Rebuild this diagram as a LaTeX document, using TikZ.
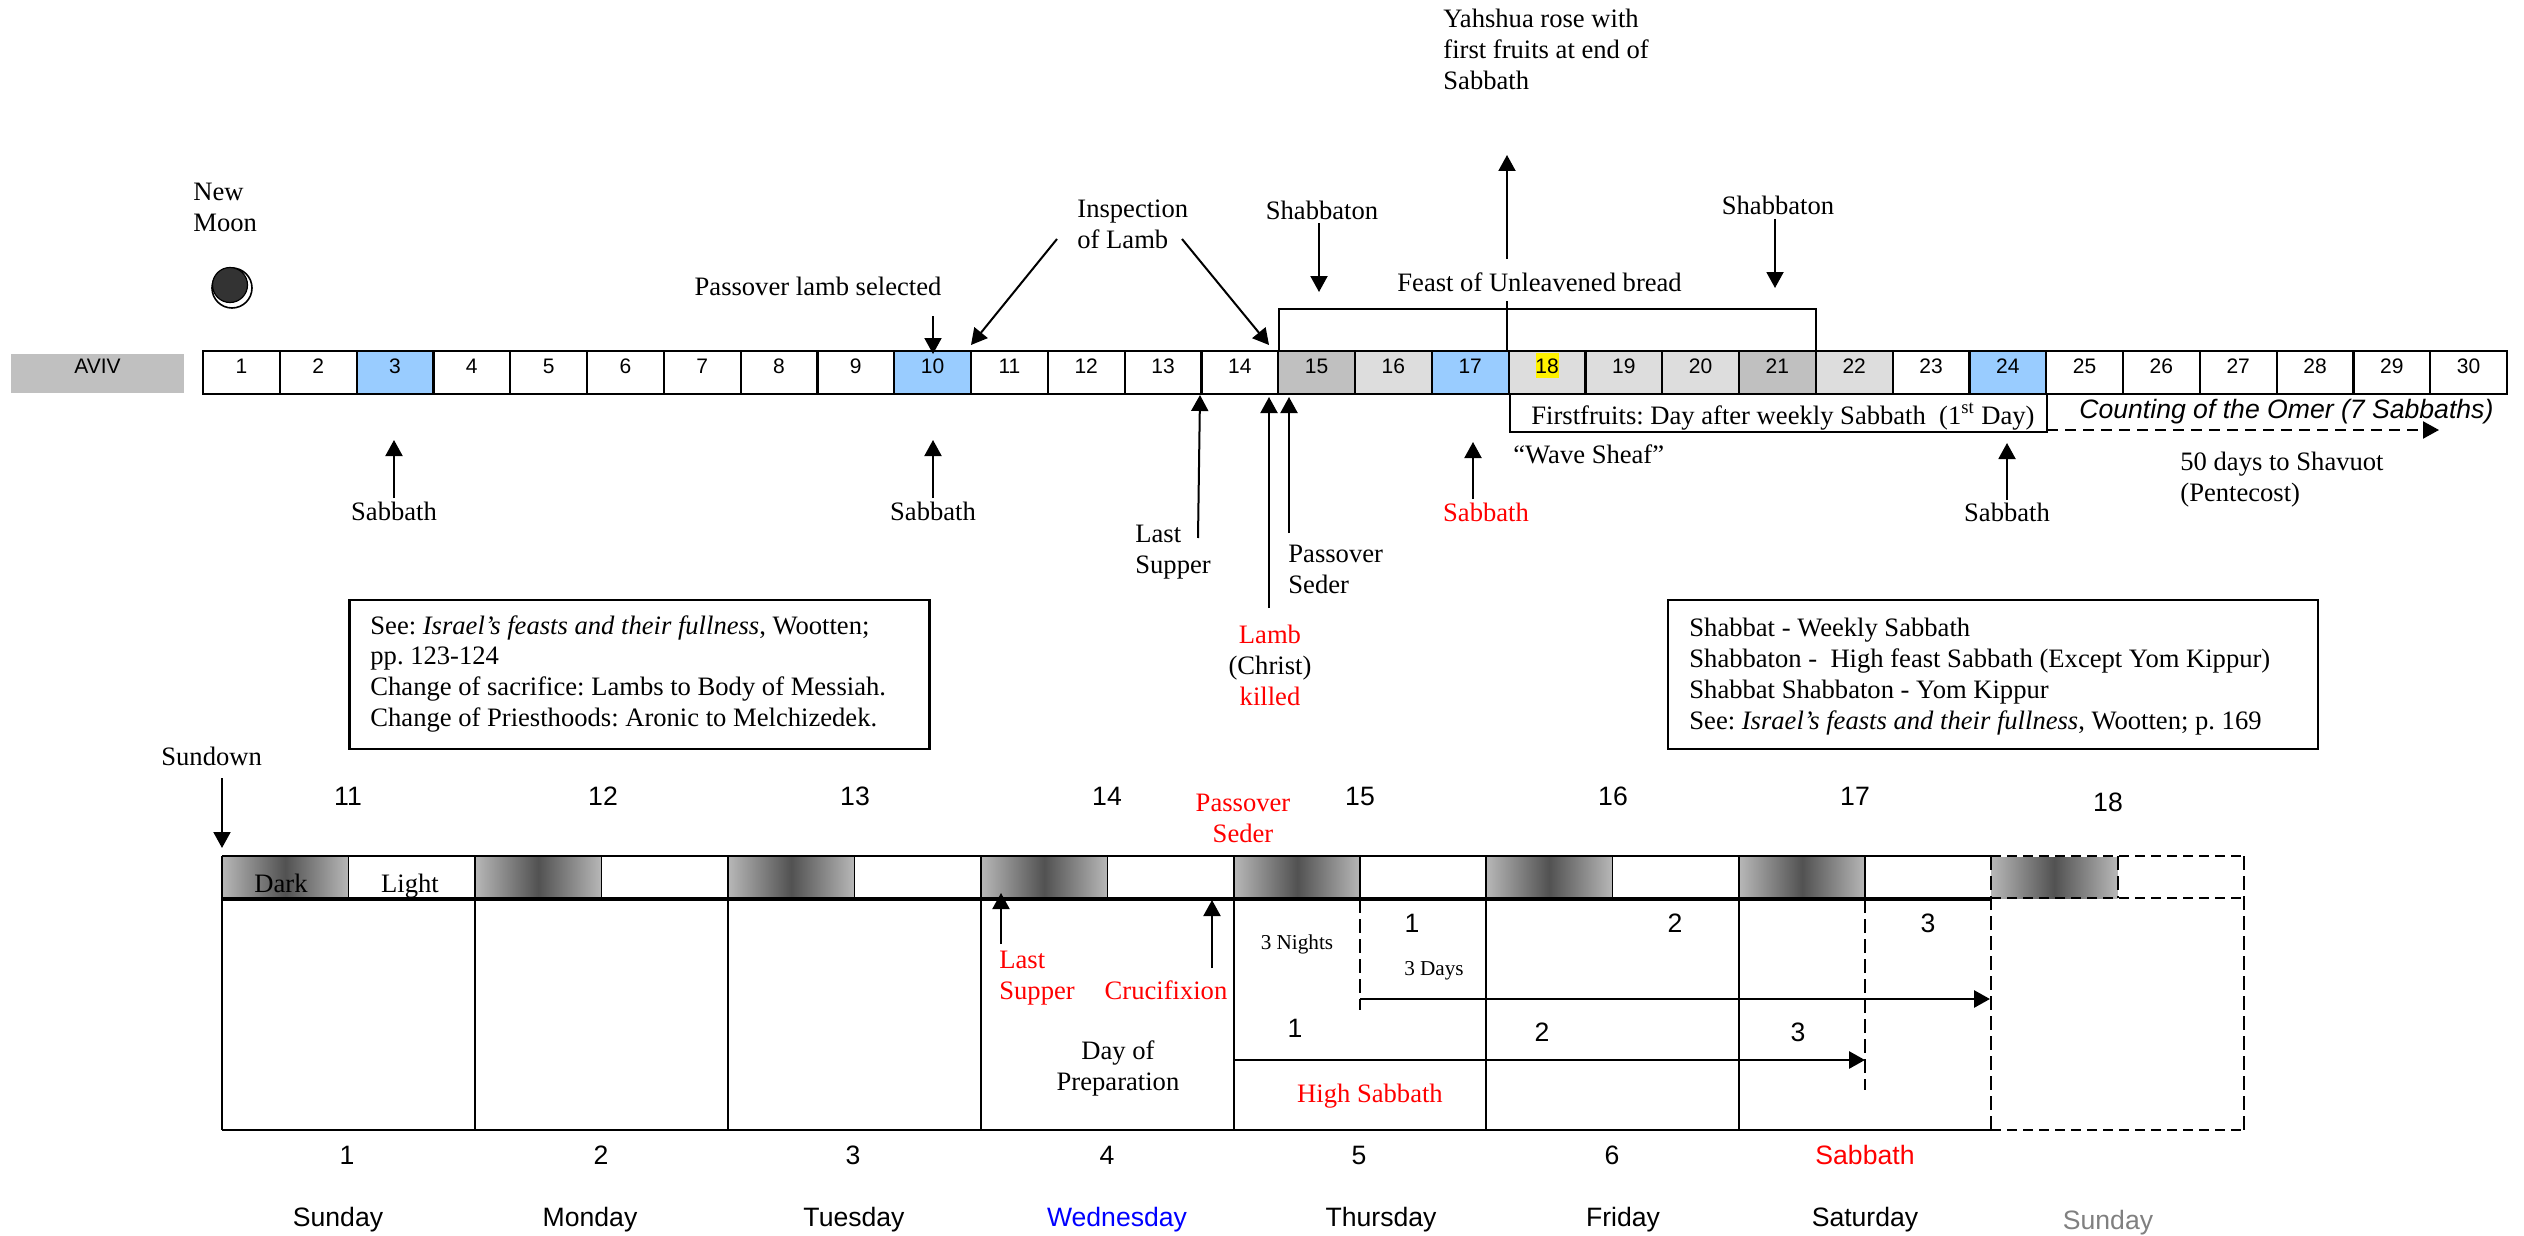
\documentclass[tikz,border=0pt]{standalone}
\usepackage{fontspec}
\setmainfont{Liberation Serif}
\setsansfont{Liberation Sans}
\usetikzlibrary{arrows.meta}
\AtBeginDocument{\frenchspacing}
\definecolor{sky}{HTML}{99CCFF}
\definecolor{midg}{HTML}{C0C0C0}
\definecolor{lightg}{HTML}{DDDDDD}
\definecolor{redt}{HTML}{FF0000}
\definecolor{blut}{HTML}{0000FF}
\definecolor{gryt}{HTML}{808080}
\definecolor{moon}{HTML}{333333}
\tikzset{
 txt/.style={inner sep=0pt,yshift=-1.5pt,font=\fontsize{13.3}{15.5}\selectfont,text height=9pt,text depth=3pt},
 txtl/.style={txt,anchor=west},
 txtc/.style={txt},
 ml/.style={inner sep=0pt,yshift=-1.5pt,font=\fontsize{13.3}{15.5}\selectfont,anchor=west,align=left},
 mc/.style={inner sep=0pt,yshift=-1.5pt,font=\fontsize{13.3}{15.5}\selectfont,align=center},
 ssf/.style={inner sep=0pt,yshift=-1.2pt,font=\sffamily\fontsize{13.3}{15.5}\selectfont,text height=9.5pt,text depth=3pt},
 sm/.style={inner sep=0pt,font=\sffamily\fontsize{10.5}{12}\selectfont,text height=7.5pt,text depth=0pt},
 tiny/.style={inner sep=0pt,yshift=-.5pt,font=\fontsize{10.6}{12}\selectfont,text height=7pt,text depth=2pt},
 cell/.style={draw=black,line width=1.1pt,minimum width=38.4pt,minimum height=21.5pt,inner sep=0pt},
 conn/.style={line width=1pt,-{Triangle[length=8pt,width=8.5pt]}},
 plain/.style={line width=1pt},
 frame/.style={line width=1.1pt},
 dashv/.style={line width=.7pt,dash pattern=on 7pt off 3pt},
 dashh/.style={line width=1.2pt,dash pattern=on 5pt off 3pt},
 infobox/.style={draw=black,line width=1.1pt,fill=white},
}
\newcommand{\conx}[6][conn]{\coordinate (#2a) at (#3);\coordinate (#2b) at (#4);\draw[#1,#5] (#2a) -- (#2b)#6;}
\begin{document}
\begin{tikzpicture}[x=0.5pt,y=-0.5pt]
\useasboundingbox (0,0) rectangle (2524,1236);
% top strip
\node[fill=midg,inner sep=0pt,minimum width=86.5pt,minimum height=19.5pt] (aviv) at (97.5,373.5) {};
\node[sm] (avivt) at (97.5,366) {AVIV};
\foreach \n/\col in {1/white,2/white,3/sky,4/white,5/white,6/white,7/white,8/white,9/white,10/sky,11/white,12/white,13/white,14/white,15/midg,16/lightg,17/sky,18/lightg,19/lightg,20/lightg,21/midg,22/lightg,23/white,24/sky,25/white,26/white,27/white,28/white,29/white,30/white}{
  \pgfmathsetmacro{\cx}{203+76.8*(\n-0.5)}
  \node[cell,fill=\col] (c\n) at (\cx,372.5) {};
}
\node[fill=yellow,inner sep=0pt,minimum width=11.5pt,minimum height=12.5pt] (hl) at (1547.5,365.5) {};
\foreach \n in {1,...,30}{
  \pgfmathsetmacro{\cx}{203+76.8*(\n-0.5)}
  \node[sm] (t\n) at (\cx,365.5) {\n};
}
% moon
\node[draw=black,line width=.8pt,circle,minimum size=20pt,inner sep=0pt,fill=white] (moono) at (232,288) {};
\node[circle,draw=black,line width=.6pt,minimum size=17.5pt,inner sep=0pt,fill=moon] (mooni) at (230,285) {};
\node[ml] (newmoon) at (193,204) {New\\Moon};
% labels top
\node[txt] (pls) at (818,286) {Passover lamb selected};
\node[txtc] (sab3) at (394,511) {Sabbath};
\node[txtc] (sab10) at (933,511) {Sabbath};
\node[ml] (insp) at (1077,221) {Inspection\\of Lamb};
\node[txtc] (shb1) at (1322,211) {Shabbaton};
\node[txtc] (shb2) at (1778,205) {Shabbaton};
\node[txtl] (feast) at (1397,282) {Feast of Unleavened bread};
\node[ml] (yah) at (1443,46) {Yahshua rose with\\first fruits at end of\\Sabbath};
\node[txtc,text=redt] (sabr) at (1486,512) {Sabbath};
\node[txtc] (sab24) at (2007,512) {Sabbath};
\node[txtl] (wave) at (1513,454) {``Wave Sheaf''};
\node[ml] (last) at (1135,549) {Last\\Supper};
\node[ml] (seder) at (1288,566) {Passover\\Seder};
\node[mc] (lamb) at (1270,662) {\textcolor{redt}{Lamb}\\(Christ)\\\textcolor{redt}{killed}};
\node[ml] (fifty) at (2180,477) {50 days to Shavuot\\(Pentecost)};
% bracket and firstfruits
\coordinate (ba) at (1279,351);\coordinate (bb) at (1279,309);\coordinate (bc) at (1816,309);\coordinate (bd) at (1816,351);
\draw[plain] (ba) -- (bb) -- (bc) -- (bd);
\coordinate (fa) at (1510,394);\coordinate (fb) at (1510,432);\coordinate (fc) at (2047,432);\coordinate (fd) at (2047,394);
\draw[frame] (fa) -- (fb) -- (fc) -- (fd);
\node[txtl] (first) at (1531,415) {Firstfruits: Day after weekly Sabbath\ \ (1\textsuperscript{st} Day)};
\node[ssf,anchor=west] (omer) at (2079,410) {\itshape Counting of the Omer (7 Sabbaths)};
% arrows top
\conx{a1}{933,316}{933,354}{}{}
\conx{a2}{394,498}{394,440}{}{}
\conx{a3}{933,498}{933,440}{}{}
\conx{a4}{1057,239}{971,345}{}{}
\conx{a5}{1182,239}{1269,345}{}{}
\conx{a6}{1319,223}{1319,292}{}{}
\conx{a7}{1775,219}{1775,288}{}{}
\conx{a8}{1507,259}{1507,155}{}{}
\conx[plain]{a9}{1507,301}{1507,351}{}{}
\conx{a10}{1473,499}{1473,442}{}{}
\conx{a11}{2007,500}{2007,443}{}{}
\conx{a12}{1198,538}{1200,395}{}{}
\conx{a13}{1269,608}{1269,397}{}{}
\conx{a14}{1289,533}{1289,397}{}{}
\conx[conn]{a15}{2047,430}{2439,430}{dash pattern=on 5.5pt off 3.5pt,line width=1.1pt}{}
% info boxes
\node[infobox,minimum width=290pt,minimum height=74.5pt,inner sep=0pt] (boxl) at (639.5,674.5) {};
\node[ml] (boxlt) at (370,671) {See: \textit{Israel's feasts and their fullness}, Wootten;\\pp. 123-124\\Change of sacrifice: Lambs to Body of Messiah.\\Change of Priesthoods: Aronic to Melchizedek.};
\node[infobox,minimum width=325pt,minimum height=74.5pt,inner sep=0pt] (boxr) at (1993,674.5) {};
\node[ml] (boxrt) at (1689,674) {Shabbat - Weekly Sabbath\\Shabbaton -\ \ High feast Sabbath (Except Yom Kippur)\\Shabbat Shabbaton - Yom Kippur\\See: \textit{Israel's feasts and their fullness}, Wootten; p. 169};
% bottom grid
\foreach \i/\x in {0/222,1/475,2/728,3/981,4/1234,5/1486,6/1739,7/1991}{
  \pgfmathsetmacro{\xm}{\x+126.5}
  \coordinate (dk\i a) at (\x,857);\coordinate (dk\i b) at (\xm,898);
  \shade[left color=black!28,right color=black!28,middle color=black!68] (dk\i a) rectangle (dk\i b);
}
\coordinate (g1) at (222,856);\coordinate (g2) at (1991,856);\coordinate (g3) at (1991,899);\coordinate (g4) at (222,899);\coordinate (g5) at (222,1130);\coordinate (g6) at (1991,1130);
\draw[line width=1pt] (g1) -- (g2);
\draw[line width=1.6pt] (g4) -- (g3);
\draw[line width=1pt] (g1) -- (g5);
\draw[line width=1.2pt] (g5) -- (g6);
\foreach \i/\x in {1/475,2/728,3/981,4/1234,5/1486,6/1739}{
  \coordinate (vt\i) at (\x,856);\coordinate (vb\i) at (\x,1130);
  \draw[line width=.9pt] (vt\i) -- (vb\i);
}
\foreach \i/\x in {0/348.5,1/601.5,2/854.5,3/1107.5,4/1360,5/1612.5,6/1865}{
  \coordinate (ht\i) at (\x,856);\coordinate (hb\i) at (\x,899);
  \draw[line width=.9pt] (ht\i) -- (hb\i);
}
% Sunday dashed
\coordinate (s1) at (1991,856);\coordinate (s2) at (2244,856);\coordinate (s3) at (2244,1130);\coordinate (s4) at (1991,1130);\coordinate (s5) at (1991,898);\coordinate (s6) at (2244,898);\coordinate (s7) at (2118,856);\coordinate (s8) at (2118,898);
\draw[dashh] (s1) -- (s2);
\draw[dashh] (s5) -- (s6);
\draw[dashh] (s4) -- (s3);
\draw[dashv] (s1) -- (s4);
\draw[dashv] (s2) -- (s3);
\draw[dashv] (s7) -- (s8);
\coordinate (d1a) at (1360,899);\coordinate (d1b) at (1360,1010);
\draw[dashv] (d1a) -- (d1b);
\coordinate (d2a) at (1865,899);\coordinate (d2b) at (1865,1090);
\draw[dashv] (d2a) -- (d2b);
\conx{b1}{222,778}{222,848}{}{}
\conx{b2}{1001,944}{1001,893}{}{}
\conx{b3}{1212,968}{1212,900}{}{}
\conx{b4}{1360,999}{1990,999}{line width=1.4pt}{}
\conx{b5}{1234,1060}{1865,1060}{line width=1.4pt}{}
% bottom labels
\node[txtl] (sundown) at (161,756) {Sundown};
\foreach \n/\x in {11/348,12/603,13/855,14/1107,15/1360,16/1613,17/1855}{
  \node[ssf] (top\n) at (\x,797) {\n};
}
\node[ssf] (top18) at (2108,803) {18};
\node[txtc] (dark) at (281,883) {Dark};
\node[txtc] (light) at (410,883) {Light};
\node[ml,text=redt] (lastb) at (999,975) {Last\\Supper};
\node[txtc,text=redt] (cruc) at (1166,990) {Crucifixion};
\node[mc] (prep) at (1118,1065) {Day of\\Preparation};
\node[mc,text=redt] (sederb) at (1243,815) {Passover\\Seder};
\node[tiny] (nights) at (1297,943) {3 Nights};
\node[tiny] (days) at (1434,969) {3 Days};
\node[ssf] (n1) at (1412,924) {1};
\node[ssf] (n2) at (1675,924) {2};
\node[ssf] (n3) at (1928,924) {3};
\node[ssf] (m1) at (1295,1029) {1};
\node[ssf] (m2) at (1542,1033) {2};
\node[ssf] (m3) at (1798,1033) {3};
\node[txtc,text=redt] (high) at (1370,1093) {High Sabbath};
\foreach \n/\x in {1/347,2/601,3/853,4/1107,5/1359,6/1612}{
  \node[ssf] (bot\n) at (\x,1156) {\n};
}
\node[ssf,text=redt] (botsab) at (1865,1156) {Sabbath};
\node[ssf] (d1) at (338,1218) {Sunday};
\node[ssf] (d2) at (590,1218) {Monday};
\node[ssf] (d3) at (854,1218) {Tuesday};
\node[ssf,text=blut] (d4) at (1117,1218) {Wednesday};
\node[ssf] (d5) at (1381,1218) {Thursday};
\node[ssf] (d6) at (1623,1218) {Friday};
\node[ssf] (d7) at (1865,1218) {Saturday};
\node[ssf,text=gryt] (d8) at (2108,1221) {Sunday};
\end{tikzpicture}
\end{document}
